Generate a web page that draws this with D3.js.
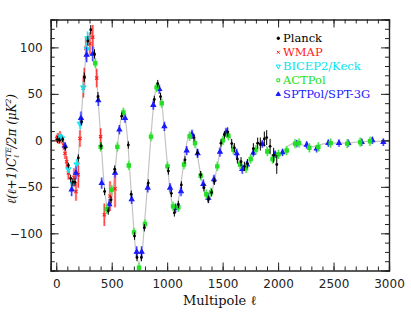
<!DOCTYPE html>
<html><head><meta charset="utf-8">
<script src="https://cdn.jsdelivr.net/npm/d3@7"></script>
<style>body{margin:0;background:#fff}svg{display:block}</style>
</head><body><svg id="c" width="411" height="321"></svg>
<script>
// ---------- data ----------
const xTicks = [0, 500, 1000, 1500, 2000, 2500, 3000];
const yTicks = [-100, -50, 0, 50, 100];
const seriesNames = ["Planck", "WMAP", "BICEP2/Keck", "ACTPol", "SPTPol/SPT-3G"];

// best-fit model curve [ell, D_ell^TE]
const theory = [[2,3],[10,2],[20,1.5],[30,1],[50,0],[70,-4],[90,-15],[110,-30],[130,-41],[150,-46],[165,-43],[180,-33],[200,-15],[220,14],[240,50],[260,82],[280,105],[300,116],[315,117],[330,108],[350,88],[370,57],[390,22],[410,-12],[430,-45],[450,-66],[470,-75],[490,-70],[510,-55],[530,-33],[550,-8],[570,12],[590,26],[605,29],[620,24],[640,5],[660,-28],[680,-62],[700,-96],[720,-121],[745,-132],[770,-123],[790,-98],[810,-68],[830,-35],[850,-2],[870,28],[890,50],[910,59],[925,58],[945,47],[965,24],[985,-3],[1005,-30],[1025,-52],[1045,-68],[1065,-75],[1085,-72],[1105,-62],[1125,-46],[1145,-28],[1165,-11],[1185,1],[1205,6],[1225,5],[1245,-1],[1265,-11],[1285,-25],[1305,-39],[1325,-51],[1350,-60],[1375,-62],[1400,-56],[1425,-44],[1450,-29],[1475,-13],[1500,-1],[1525,6],[1545,7],[1565,4],[1590,-4],[1615,-13],[1640,-22],[1665,-28],[1690,-31],[1715,-29],[1740,-23],[1765,-15],[1790,-8],[1815,-4],[1840,-2],[1865,-3],[1890,-6],[1915,-11],[1940,-16],[1965,-18],[1990,-18],[2015,-16],[2045,-12],[2080,-7],[2120,-4],[2160,-3],[2200,-4],[2250,-6],[2300,-7],[2350,-6],[2400,-4],[2450,-3],[2500,-3],[2550,-3],[2600,-3],[2700,-2],[2800,-1],[2900,-1],[3000,-1]];

// [ell, value, error]
const planck = [[12,1,4],[30,0,3],[58,1,3],[82,-8,3],[109,-27,3],[130,-41,4],[150,-45,4],[169,-45,4],[199,-19,4],[229,20,4],[253,68,5],[285,107,5],[311,119,5],[345,93,5],[376,47,5],[404,-6,4],[436,-55,4],[469,-76,4],[494,-64,4],[527,-31,4],[590,26,4],[650,-5,4],[676,-58,4],[706,-103,4],[728,-126,4],[768,-126,4],[794,-94,4],[830,-46,4],[884,44,4],[915,61,4],[940,47,4],[1011,-33,4],[1038,-57,4],[1065,-78,4],[1101,-69,4],[1128,-48,4],[1161,-21,4],[1242,3,4],[1272,-13.5,4],[1302,-37,4],[1332,-51,4],[1371,-63.5,4],[1401,-56,4],[1425,-44,4],[1485,-3,4],[1516,6,4],[1546,9,5],[1582,-3.5,5],[1606,-8,5],[1633,-20,5],[1666,-23,5],[1696,-28,5],[1723,-25,5],[1777,-9,6],[1816,-3,6],[1840,-4,7],[1876,1.5,8],[1897,3,8],[1928,-6.4,8],[1960,-16,8],[1988,-26,10]];
const wmap = [[4,2,4],[15,3,5],[25,1,5],[34,5,5],[45,1,4],[65,-5,5],[79,-14,6],[94,-23,6],[109,-35,7],[160,-40,10],[178,-55,10],[199,-37,14],[214,2,9],[244,56,10],[253,68,10],[268,99,12],[304,104,12],[329,111,13],[365,67,10],[400,4,9],[433,-80,12],[485,-60,16],[530,-52,20]];
const bicep = [[34,4,3],[52,2,3],[109,-31,4],[148,-47,5],[184,-26,6],[214,18,6],[244,57,6],[276,98,7],[282,110,7]];
const act = [[352,83,5],[400,-7,5],[455,-74,5],[500,-53,5],[551,-7,5],[605,30,5],[654,-27,5],[701,-99,5],[746,-137,5],[800,-90,5],[854,4,5],[905,57,5],[951,40,5],[1003,-28,5],[1053,-71,5],[1101,-72,5],[1152,-26,5],[1203,4.5,5],[1251,-3,5],[1302,-38,5],[1353,-58,5],[1395,-56,5],[1452,-28,5],[1503,0,5],[1552,5,5],[1597,-10,5],[1657,-26,5],[1711,-30,5],[1753,-20,5],[1801,-10,5],[1903,-12,5],[1950,-20,5],[2003,-15,5],[2078,-11,5],[2153,-3.5,5],[2189,-3,5],[2282,-8,5],[2363,-7,5],[2474,-3,5],[2624,-3.5,5],[2740,-2,5],[2829,-1,5]];
const spt = [[79,-6,4],[139,-53,7],[178,-35,7],[223,24,7],[274,92,8],[329,93,8],[379,43,6],[410,-46,6],[478,-69,6],[530,-35,5],[569,11.5,5],[620,24,5],[680,-63.5,5],[725,-120,6],[770,-120,6],[825,-51,5],[875,38,5],[929,55,5],[975,15,5],[1026,-51,5],[1076,-73,5],[1125,-55,5],[1176,-11,5],[1224,6.5,5],[1275,-14,5],[1326,-47,5],[1371,-62,5],[1422,-42,5],[1476,-12.5,5],[1531,8.5,5],[1627,-14,5],[1677,-31,5],[1720,-26,4],[1777,-13.5,4],[1858,-4,4],[1973,-15,4],[2040,-13,4],[2168,-3.5,4],[2258,-5,4],[2348,-9,4],[2453,-3,4],[2549,-3,4],[2633,-3,4],[2754,-2,4],[2850,0,4],[2949,-2,4]];

// ---------- drawing ----------
const svg = d3.select("#c");
const L = 50.7, R = 389, T = 19.5, B = 270.5;
const x = d3.scaleLinear().domain([-50, 3000]).range([L, R]);
const y = d3.scaleLinear().domain([-140, 130]).range([B, T]);

svg.append("defs").append("clipPath").attr("id","clip")
  .append("rect").attr("x",L).attr("y",T).attr("width",R-L).attr("height",B-T);

const plot = svg.append("g").attr("clip-path","url(#clip)");

plot.append("path").datum(theory)
  .attr("fill","none").attr("stroke","#c4c4c4").attr("stroke-width",1.2)
  .attr("d", d3.line().x(d=>x(d[0])).y(d=>y(d[1])).curve(d3.curveCatmullRom));

const styles = {
  WMAP:   {data: wmap,  color:"#ff1a1a", light:"#ff8a8a", sym:d3.symbolTimes,   size:8,  fill:false, rot:0},
  BICEP:  {data: bicep, color:"#00e5ee", light:"#80f2f7", sym:d3.symbolTriangle, size:10, fill:false, rot:180},
  SPT:    {data: spt,   color:"#1a1aff", light:"#8c8cff", sym:d3.symbolTriangle, size:9,  fill:true, rot:0},
  ACT:    {data: act,   color:"#22e022", light:"#8ff08f", sym:d3.symbolSquare,   size:11, fill:true, rot:0},
};
const order = ["WMAP","BICEP","SPT","ACT"];
order.forEach(k => {
  const s = styles[k];
  const g = plot.append("g");
  g.selectAll("line.w").data(s.data).join("line")
    .attr("x1",d=>x(d[0])).attr("x2",d=>x(d[0]))
    .attr("y1",d=>y(d[1]-d[2])).attr("y2",d=>y(d[1]+d[2]))
    .attr("stroke",s.light).attr("stroke-width",2.6).attr("stroke-opacity",0.6);
  g.selectAll("line.n").data(s.data).join("line")
    .attr("x1",d=>x(d[0])).attr("x2",d=>x(d[0]))
    .attr("y1",d=>y(d[1]-d[2])).attr("y2",d=>y(d[1]+d[2]))
    .attr("stroke",s.color).attr("stroke-width",0.9);
  g.selectAll("path").data(s.data).join("path")
    .attr("transform",d=>`translate(${x(d[0])},${y(d[1])}) rotate(${s.rot})`)
    .attr("d", d3.symbol().type(s.sym).size(s.size))
    .attr("fill", s.fill ? s.color : "none")
    .attr("stroke", s.color).attr("stroke-width", 1.1);
});
// Planck on top
const gp = plot.append("g");
gp.selectAll("line").data(planck).join("line")
  .attr("x1",d=>x(d[0])).attr("x2",d=>x(d[0]))
  .attr("y1",d=>y(d[1]-d[2])).attr("y2",d=>y(d[1]+d[2]))
  .attr("stroke","#000").attr("stroke-width",1);
gp.selectAll("circle").data(planck).join("circle")
  .attr("cx",d=>x(d[0])).attr("cy",d=>y(d[1])).attr("r",1.4).attr("fill","#000");

// axes
const axisColor = "#222";
function styleAxis(g){
  g.selectAll(".domain").attr("stroke",axisColor).attr("stroke-width",1.2);
  g.selectAll(".tick line").attr("stroke",axisColor).attr("stroke-width",1);
  g.selectAll("text").attr("font-family","DejaVu Sans, sans-serif").attr("font-size",12).attr("fill","#222");
}
const xMinor = d3.range(0, 3001, 100);
const yMinor = d3.range(-140, 131, 10);
svg.append("g").attr("transform",`translate(0,${B})`)
  .call(d3.axisBottom(x).tickValues(xMinor).tickSize(-4).tickFormat("")).call(styleAxis);
svg.append("g").attr("transform",`translate(0,${B})`)
  .call(d3.axisBottom(x).tickValues(xTicks).tickSize(-8).tickPadding(9).tickFormat(d3.format("d"))).call(styleAxis);
svg.append("g").attr("transform",`translate(0,${T})`)
  .call(d3.axisTop(x).tickValues(xMinor).tickSize(-4).tickFormat("")).call(styleAxis);
svg.append("g").attr("transform",`translate(0,${T})`)
  .call(d3.axisTop(x).tickValues(xTicks).tickSize(-8).tickFormat("")).call(styleAxis);
svg.append("g").attr("transform",`translate(${L},0)`)
  .call(d3.axisLeft(y).tickValues(yMinor).tickSize(-4).tickFormat("")).call(styleAxis);
svg.append("g").attr("transform",`translate(${L},0)`)
  .call(d3.axisLeft(y).tickValues(yTicks).tickSize(-8).tickPadding(8)).call(styleAxis);
svg.append("g").attr("transform",`translate(${R},0)`)
  .call(d3.axisRight(y).tickValues(yMinor).tickSize(-4).tickFormat("")).call(styleAxis);
svg.append("g").attr("transform",`translate(${R},0)`)
  .call(d3.axisRight(y).tickValues(yTicks).tickSize(-8).tickFormat("")).call(styleAxis);

// axis labels
svg.append("text").attr("x",(L+R)/2).attr("y",305).attr("text-anchor","middle")
  .attr("font-family","DejaVu Serif, serif").attr("font-size",13).attr("fill","#111")
  .text("Multipole ℓ");

const yl = svg.append("text").attr("transform","translate(16,149) rotate(-90)")
  .attr("text-anchor","middle").attr("font-family","DejaVu Serif, serif")
  .attr("font-style","italic").attr("font-size",12).attr("fill","#111");
yl.append("tspan").text("ℓ(ℓ+1)C");
yl.append("tspan").attr("dy",-5).attr("font-size",7.5).text("TE");
yl.append("tspan").attr("dy",8).attr("dx",-11).attr("font-size",7.5).text("ℓ");
yl.append("tspan").attr("dy",-3).attr("dx",7).text("/2π (μK");
yl.append("tspan").attr("dy",-5).attr("font-size",7.5).text("2");
yl.append("tspan").attr("dy",5).text(")");

// legend
const legendItems = [
  {name: seriesNames[0], color:"#000", sym:d3.symbolCircle, size:5, fill:true, rot:0},
  {name: seriesNames[1], color:"#ff1a1a", sym:d3.symbolTimes, size:7, fill:false, rot:0},
  {name: seriesNames[2], color:"#00e5ee", sym:d3.symbolTriangle, size:8, fill:false, rot:180},
  {name: seriesNames[3], color:"#22e022", sym:d3.symbolSquare, size:8, fill:false, rot:0},
  {name: seriesNames[4], color:"#1a1aff", sym:d3.symbolTriangle, size:8, fill:true, rot:0},
];
const lg = svg.append("g");
legendItems.forEach((it,i) => {
  const cy = 38.3 + i*14;
  lg.append("path").attr("transform",`translate(278.3,${cy}) rotate(${it.rot})`)
    .attr("d", d3.symbol().type(it.sym).size(it.size))
    .attr("fill", it.fill ? it.color : "none").attr("stroke", it.color).attr("stroke-width",1);
  lg.append("text").attr("x",283).attr("y",cy+4).attr("font-family","DejaVu Serif, serif")
    .attr("font-size",11.5).attr("fill",it.color).text(it.name);
});
</script></body></html>
